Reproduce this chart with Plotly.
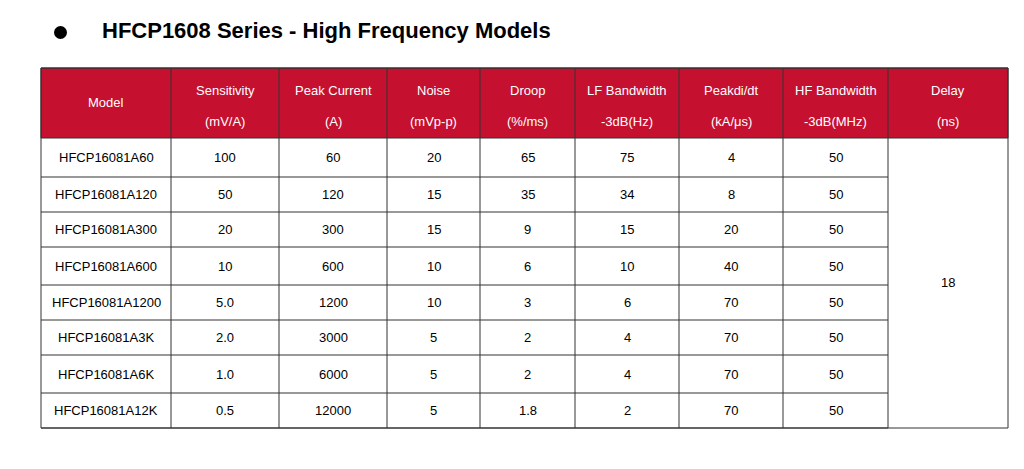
import plotly.graph_objects as go

title = "HFCP1608 Series - High Frequency Models"
headers = [("Model", ""), ("Sensitivity", "(mV/A)"), ("Peak Current", "(A)"), ("Noise", "(mVp-p)"),
           ("Droop", "(%/ms)"), ("LF Bandwidth", "-3dB(Hz)"), ("Peakdi/dt", "(kA/μs)"),
           ("HF Bandwidth", "-3dB(MHz)"), ("Delay", "(ns)")]
models = ["HFCP16081A60", "HFCP16081A120", "HFCP16081A300", "HFCP16081A600",
          "HFCP16081A1200", "HFCP16081A3K", "HFCP16081A6K", "HFCP16081A12K"]
sensitivity = ["100", "50", "20", "10", "5.0", "2.0", "1.0", "0.5"]
peak_current = ["60", "120", "300", "600", "1200", "3000", "6000", "12000"]
noise = ["20", "15", "15", "10", "10", "5", "5", "5"]
droop = ["65", "35", "9", "6", "3", "2", "2", "1.8"]
lf_bw = ["75", "34", "15", "10", "6", "4", "4", "2"]
peak_didt = ["4", "8", "20", "40", "70", "70", "70", "70"]
hf_bw = ["50", "50", "50", "50", "50", "50", "50", "50"]
delay = "18"

# layout in pixels (page has an 8px body margin, so axes are shifted by 8)
col_x = [41, 171, 279, 387, 480, 575, 679, 783, 888, 1008]
row_y = [138, 177, 212, 247, 285, 320, 355, 393, 428]
head_top = 68
red = "#C5102F"
line = "#333333"
font = "Liberation Sans, Arial, sans-serif"

fig = go.Figure()
shapes = [dict(type="rect", x0=col_x[0], x1=col_x[-1], y0=head_top, y1=row_y[0],
               fillcolor=red, line=dict(color=line, width=1), layer="below")]
ann = []
for i, (a, b) in enumerate(headers):
    cx = (col_x[i] + col_x[i + 1]) / 2
    if i > 0:
        shapes.append(dict(type="line", x0=col_x[i], x1=col_x[i], y0=head_top, y1=row_y[-1],
                           line=dict(color=line, width=1)))
    if b:
        ann.append(dict(x=cx, y=90, text=a, font=dict(color="white", size=13, family=font), showarrow=False))
        ann.append(dict(x=cx, y=121, text=b, font=dict(color="white", size=13, family=font), showarrow=False))
    else:
        ann.append(dict(x=cx, y=102, text=a, font=dict(color="white", size=13, family=font), showarrow=False))

cols = [models, sensitivity, peak_current, noise, droop, lf_bw, peak_didt, hf_bw]
for r in range(len(models)):
    y0, y1 = row_y[r], row_y[r + 1]
    shapes.append(dict(type="line", x0=col_x[0], x1=col_x[8], y0=y1, y1=y1,
                       line=dict(color=line, width=1)))
    for c, vals in enumerate(cols):
        ann.append(dict(x=(col_x[c] + col_x[c + 1]) / 2, y=(y0 + y1) / 2, text=vals[r],
                        font=dict(color="black", size=13, family=font), showarrow=False))
shapes.append(dict(type="rect", x0=col_x[0], x1=col_x[-1], y0=head_top, y1=row_y[-1],
                   line=dict(color=line, width=1)))
ann.append(dict(x=(col_x[8] + col_x[9]) / 2, y=282, text=delay,
                font=dict(color="black", size=13, family=font), showarrow=False))
ann.append(dict(x=100, y=30, xanchor="left", text="<b>" + title + "</b>",
                font=dict(color="black", size=22, family=font), showarrow=False))
shapes.append(dict(type="circle", x0=54, x1=67, y0=26, y1=39, fillcolor="black", line=dict(width=0)))

fig.update_layout(width=1024, height=469, margin=dict(l=0, r=0, t=0, b=0),
                  plot_bgcolor="white", paper_bgcolor="white",
                  xaxis=dict(range=[8, 1032], visible=False, fixedrange=True),
                  yaxis=dict(range=[477, 8], visible=False, fixedrange=True),
                  shapes=shapes, annotations=ann, showlegend=False)
fig.write_html("out.html")
